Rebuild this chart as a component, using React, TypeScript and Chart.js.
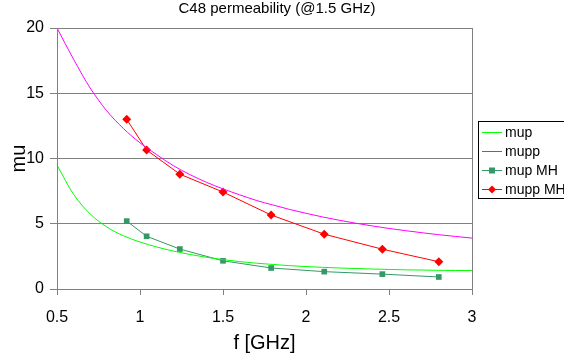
import React, { useEffect, useRef } from "react";
import { Chart, registerables } from "chart.js";

Chart.register(...registerables);

// Frequency grid (GHz) for the fitted permeability curves
const fGrid = [
  0.5, 0.6, 0.7, 0.8, 0.9, 1.0, 1.1, 1.2, 1.3, 1.4, 1.5, 1.6, 1.7,
  1.8, 1.9, 2.0, 2.1, 2.2, 2.3, 2.4, 2.5, 2.6, 2.7, 2.8, 2.9, 3.0,
];
// Real part (mu') of the fitted curve
const mupValues = [
  9.5, 7.25, 5.75, 4.75, 4.08, 3.6, 3.22, 2.91, 2.65, 2.43, 2.25, 2.1, 1.98,
  1.88, 1.79, 1.72, 1.66, 1.61, 1.57, 1.53, 1.5, 1.47, 1.45, 1.43, 1.42, 1.41,
];
// Imaginary part (mu'') of the fitted curve
const muppValues = [
  20.0, 17.6, 15.4, 13.65, 12.3, 11.2, 10.3, 9.46, 8.77, 8.18, 7.67, 7.22, 6.79,
  6.44, 6.1, 5.8, 5.52, 5.27, 5.04, 4.83, 4.64, 4.47, 4.31, 4.16, 4.03, 3.9,
];
// Measured points (MH)
const fMH = [0.92, 1.04, 1.24, 1.5, 1.79, 2.11, 2.46, 2.8];
const mupMH = [5.2, 4.04, 3.06, 2.16, 1.61, 1.33, 1.14, 0.92];
const muppMH = [13.0, 10.65, 8.8, 7.43, 5.67, 4.2, 3.05, 2.09];

const xTicks = [0.5, 1, 1.5, 2, 2.5, 3];
const yTicks = [0, 5, 10, 15, 20];

const seriesNames = ["mup", "mupp", "mup MH", "mupp MH"];
const seriesColors = ["#00ff00", "#ff00ff", "#339966", "#ff0000"];
const seriesMarkers: (string | false)[] = [false, false, "rect", "rectRot"];

const FONT = "'Liberation Sans', Arial, sans-serif";
const GRID = "#808080";

const toPoints = (xs: number[], ys: number[]) => xs.map((x, i) => ({ x, y: ys[i] }));

const framePlugin = {
  id: "frameTitleLegend",
  afterDraw(chart: any) {
    const { ctx, chartArea } = chart;
    ctx.save();
    // plot frame
    ctx.strokeStyle = GRID;
    ctx.lineWidth = 1;
    ctx.strokeRect(chartArea.left + 0.5, chartArea.top + 0.5, chartArea.right - chartArea.left, chartArea.bottom - chartArea.top);

    // title
    ctx.fillStyle = "#000";
    ctx.font = `15px ${FONT}`;
    ctx.textAlign = "center";
    ctx.textBaseline = "middle";
    ctx.fillText("C48 permeability (@1.5 GHz)", 277, 9);

    // legend box
    const bx = 478, by = 121, bw = 100, bh = 77;
    ctx.fillStyle = "#fff";
    ctx.fillRect(bx, by, bw, bh);
    ctx.strokeStyle = "#000";
    ctx.strokeRect(bx + 0.5, by + 0.5, bw, bh);
    ctx.font = `14px ${FONT}`;
    ctx.textAlign = "left";
    seriesNames.forEach((name, i) => {
      const y = 132 + i * 19;
      ctx.strokeStyle = seriesColors[i];
      ctx.lineWidth = 1;
      ctx.beginPath();
      ctx.moveTo(482, y + 0.5);
      ctx.lineTo(502, y + 0.5);
      ctx.stroke();
      const m = seriesMarkers[i];
      if (m) {
        ctx.fillStyle = seriesColors[i];
        ctx.beginPath();
        if (m === "rect") {
          ctx.rect(489, y - 2.5, 6, 6);
        } else {
          ctx.moveTo(492, y - 3.5);
          ctx.lineTo(496, y + 0.5);
          ctx.lineTo(492, y + 4.5);
          ctx.lineTo(488, y + 0.5);
          ctx.closePath();
        }
        ctx.fill();
      }
      ctx.fillStyle = "#000";
      ctx.fillText(name, 505, y + 1);
    });
    ctx.restore();
  },
};

export default function App() {
  const ref = useRef<HTMLCanvasElement>(null);

  useEffect(() => {
    if (!ref.current) return;
    const chart = new Chart(ref.current, {
      type: "line",
      data: {
        datasets: [
          {
            label: seriesNames[0],
            data: toPoints(fGrid, mupValues),
            borderColor: seriesColors[0],
            borderWidth: 1,
            pointRadius: 0,
            cubicInterpolationMode: "monotone",
          },
          {
            label: seriesNames[1],
            data: toPoints(fGrid, muppValues),
            borderColor: seriesColors[1],
            borderWidth: 1,
            pointRadius: 0,
            cubicInterpolationMode: "monotone",
          },
          {
            label: seriesNames[2],
            data: toPoints(fMH, mupMH),
            borderColor: seriesColors[2],
            backgroundColor: seriesColors[2],
            borderWidth: 1,
            pointStyle: "rect",
            pointRadius: 4,
            pointBorderWidth: 0,
            tension: 0,
          },
          {
            label: seriesNames[3],
            data: toPoints(fMH, muppMH),
            borderColor: seriesColors[3],
            backgroundColor: seriesColors[3],
            borderWidth: 1,
            pointStyle: "rectRot",
            pointRadius: 4.5,
            pointBorderWidth: 0,
            tension: 0,
          },
        ],
      },
      options: {
        animation: false,
        responsive: false,
        layout: { padding: { top: 28, right: 92, bottom: 0, left: 0 } },
        plugins: {
          legend: { display: false },
          tooltip: { enabled: false },
          title: { display: false },
        },
        scales: {
          x: {
            type: "linear",
            min: 0.5,
            max: 3,
            afterFit: (s: any) => {
              s.height = 64;
            },
            afterBuildTicks: (s: any) => {
              s.ticks = xTicks.map((v) => ({ value: v }));
            },
            grid: { drawOnChartArea: false, drawTicks: true, tickLength: 6, color: GRID },
            border: { color: GRID, width: 1 },
            ticks: {
              color: "#000",
              font: { family: FONT, size: 16 },
              padding: 13,
              maxRotation: 0,
              callback: (v: any) => String(v),
            },
            title: {
              display: true,
              text: "f [GHz]",
              color: "#000",
              font: { family: FONT, size: 20 },
              padding: { top: 0, bottom: -2 },
            },
          },
          y: {
            type: "linear",
            min: 0,
            max: 20,
            afterFit: (s: any) => {
              s.width = 57;
            },
            afterBuildTicks: (s: any) => {
              s.ticks = yTicks.map((v) => ({ value: v }));
            },
            grid: { color: GRID, lineWidth: 1, tickLength: 7 },
            border: { color: GRID, width: 1 },
            ticks: {
              color: "#000",
              font: { family: FONT, size: 16 },
              padding: 6,
              callback: (v: any) => String(v),
            },
            title: {
              display: true,
              text: "mu",
              color: "#000",
              font: { family: FONT, size: 20 },
              padding: { top: 7, bottom: 0 },
            },
          },
        },
      },
      plugins: [framePlugin],
    });
    return () => chart.destroy();
  }, []);

  return (
    <canvas
      ref={ref}
      width={564}
      height={353}
      style={{ position: "fixed", left: 0, top: 0, width: 564, height: 353, background: "#fff" }}
    />
  );
}
